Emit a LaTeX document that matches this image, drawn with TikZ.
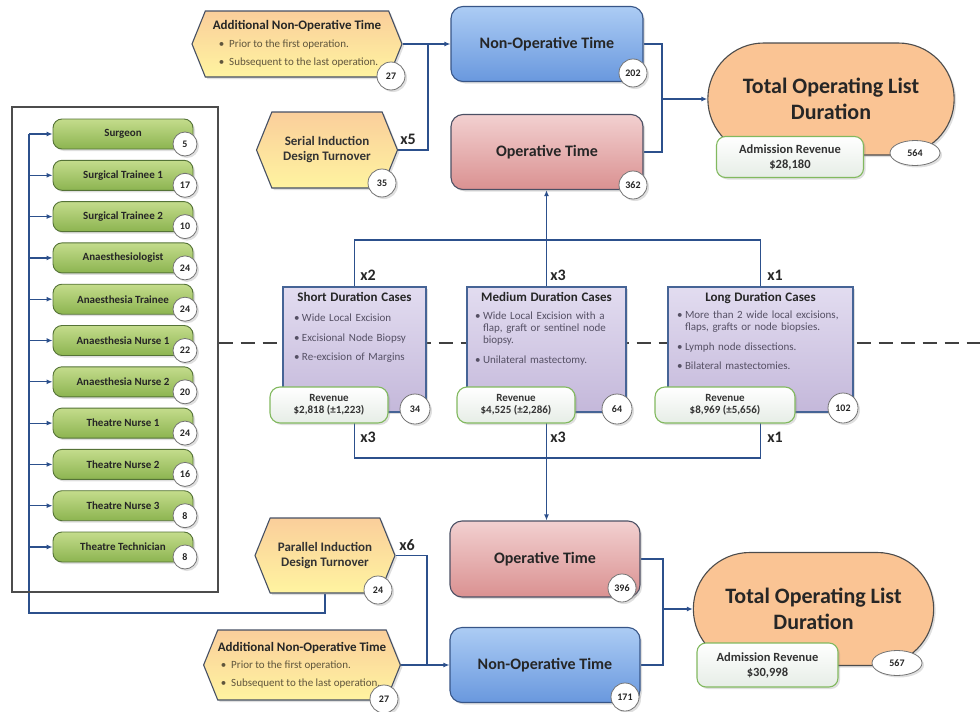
\documentclass[tikz,border=0pt]{standalone}
\usepackage{fontspec}
\setmainfont{Carlito}
\usepackage{xcolor}
\usepackage{tikz}
\usetikzlibrary{shapes, shapes.misc, shapes.symbols, shapes.geometric}
\usetikzlibrary{positioning, arrows.meta, backgrounds, shadows}

\definecolor{linkblue}{RGB}{44,80,140}
\definecolor{hexhi}{RGB}{250,206,155}
\definecolor{hexlo}{RGB}{255,244,160}
\definecolor{hexedge}{RGB}{70,80,100}
\definecolor{nonhi}{RGB}{172,204,244}
\definecolor{nonlo}{RGB}{105,152,222}
\definecolor{nonedge}{RGB}{55,85,135}
\definecolor{ophi}{RGB}{242,208,208}
\definecolor{oplo}{RGB}{218,145,145}
\definecolor{opedge}{RGB}{75,80,100}
\definecolor{totfill}{RGB}{250,196,148}
\definecolor{admedge}{RGB}{130,185,95}
\definecolor{admlo}{RGB}{230,237,230}
\definecolor{stafhi}{RGB}{196,220,140}
\definecolor{staflo}{RGB}{140,180,80}
\definecolor{stafedge}{RGB}{85,115,55}
\definecolor{casehi}{RGB}{226,220,240}
\definecolor{caselo}{RGB}{196,184,218}
\definecolor{caseedge}{RGB}{70,100,150}
\definecolor{bullgray}{RGB}{85,80,100}
\definecolor{hexbull}{RGB}{95,85,60}

\newcommand{\bitem}[1]{\par\hangindent=8pt\hangafter=1\noindent\makebox[8pt][l]{\textbullet}#1\par\vspace{7.5pt}}
\newcommand{\hexitem}[2][6pt]{\hspace*{#1}\textbullet\hspace{5pt}#2}
\newcommand{\ctitle}{\bfseries\fontsize{13}{15}\selectfont\color{black!85}}

\begin{document}
\begin{tikzpicture}[
    x=1pt, y=-1pt,
    shade/.style={drop shadow={shadow xshift=2pt, shadow yshift=-2pt, opacity=0.25}},
    hex/.style={signal, signal to=west and east, signal pointer angle=136, draw=hexedge, line width=1.1pt,
        top color=hexhi, bottom color=hexlo, inner sep=0pt, shade},
    nonop/.style={rectangle, rounded corners=12pt, draw=nonedge, line width=1.1pt, top color=nonhi, bottom color=nonlo,
        minimum width=192, minimum height=75, font=\bfseries\fontsize{16}{19}\selectfont, text=black!85, shade},
    optime/.style={nonop, draw=opedge, top color=ophi, bottom color=oplo},
    total/.style={rounded rectangle, draw=black!70, line width=1.1pt, fill=totfill, align=center,
        font=\bfseries\fontsize{22}{26}\selectfont, text=black!85, shade},
    adm/.style={rectangle, rounded corners=9pt, draw=admedge, line width=1.1pt, top color=white, bottom color=admlo,
        align=center, font=\bfseries\fontsize{12.5}{15}\selectfont, text=black!80, shade},
    staff/.style={rectangle, rounded corners=9pt, draw=stafedge, line width=0.9pt, top color=stafhi, bottom color=staflo,
        minimum width=140, minimum height=30, font=\bfseries\fontsize{11}{12}\selectfont, text=black!85, shade},
    cases/.style={rectangle, draw=caseedge, line width=1.1pt, top color=casehi, bottom color=caselo,
        minimum height=125, shade},
    casetext/.style={anchor=north, align=left, inner sep=0pt, font=\fontsize{11}{12}\selectfont, text=bullgray},
    rev/.style={adm, rounded corners=10pt, minimum width=118, minimum height=36, font=\bfseries\fontsize{11}{12.5}\selectfont},
    badge/.style={circle, draw=black!55, line width=0.8pt, fill=white, minimum size=28, inner sep=0pt,
        font=\bfseries\fontsize{10}{10}\selectfont, text=black!85, shade},
    ovalbadge/.style={badge, ellipse, minimum width=50, minimum height=25},
    mult/.style={font=\bfseries\fontsize{16}{16}\selectfont, text=black!85, inner sep=0pt},
    panel/.style={rectangle, draw=black!70, line width=1.3pt, minimum width=206, minimum height=485},
    conn/.style={draw=linkblue, line width=1.2pt},
    dashline/.style={draw=black!75, line width=1.8pt, dash pattern=on 14pt off 8pt},
    >={Latex[length=6pt, width=5pt]}
    ]

    \useasboundingbox (0,0) rectangle (980,712);

    % staff list
    \node[panel] (staffpanel) at (115,349.5) {};
    \foreach \who/\cnt [count=\i from 0] in {Surgeon/5, Surgical Trainee 1/17, Surgical Trainee 2/10,
        Anaesthesiologist/24, Anaesthesia Trainee/24, Anaesthesia Nurse 1/22, Anaesthesia Nurse 2/20,
        Theatre Nurse 1/24, Theatre Nurse 2/16, Theatre Nurse 3/8, Theatre Technician/8} {
        \node[staff] (st\i) at (123, 134+41.3*\i) {\who};
        \node[badge, minimum size=24] (sb\i) at (185, 144+41.3*\i) {\cnt};
    }

    % top half
    \node[hex, minimum width=210, minimum height=66, align=left, font=\fontsize{11}{12}\selectfont, text=hexbull]
        (addtop) at (297,44) {{\ctitle Additional Non-Operative Time}\\[6pt]
        \hexitem{Prior to the first operation.}\\[6pt]
        \hexitem{Subsequent to the last operation.}};
    \node[hex, minimum width=141, minimum height=76, align=center, font=\bfseries\fontsize{13}{15}\selectfont, text=black!80]
        (serial) at (327,150) {Serial Induction\\Design Turnover};
    \node[nonop] (nonoptop) at (547,44) {Non-Operative Time};
    \node[optime] (optop) at (547,152) {Operative Time};
    \node[total, minimum width=253, minimum height=112] (totaltop) at (831,99) {Total Operating List\\Duration};
    \node[adm, minimum width=147, minimum height=41] (admtop) at (790,157) {Admission Revenue\\\$28,180};

    \node[badge] (b27a) at (391,76) {27};
    \node[badge] (b35) at (382,183) {35};
    \node[badge] (b202) at (633,73) {202};
    \node[badge] (b362) at (633,185) {362};
    \node[ovalbadge] (b564) at (915,153) {564};

    % case mix
    \node[cases, minimum width=143] (short) at (354.5,349.5) {};
    \node[cases, minimum width=159] (medium) at (546.5,349.5) {};
    \node[cases, minimum width=185] (long) at (760.5,349.5) {};

    \node[casetext, text width=121] (shorttxt) at ([yshift=-6pt]short.north) {%
        {\centering\ctitle Short Duration Cases\par}\vspace{8pt}
        \bitem{Wide Local Excision}
        \bitem{Excisional Node Biopsy}
        \bitem{Re-excision of Margins}};
    \node[casetext, text width=143] (mediumtxt) at ([yshift=-6pt]medium.north) {%
        {\centering\ctitle Medium Duration Cases\par}\vspace{6pt}
        \bitem{Wide Local Excision with a\newline flap, graft or sentinel node\newline biopsy.}
        \bitem{Unilateral mastectomy.}};
    \node[casetext, text width=167] (longtxt) at ([yshift=-6pt]long.north) {%
        {\centering\ctitle Long Duration Cases\par}\vspace{5pt}
        \bitem{More than 2 wide local excisions,\newline flaps, grafts or node biopsies.}
        \bitem{Lymph node dissections.}
        \bitem{Bilateral mastectomies.}};

    \node[rev] (revshort) at (329,405) {Revenue\\\$2,818 (±1,223)};
    \node[rev] (revmedium) at (516,405) {Revenue\\\$4,525 (±2,286)};
    \node[rev, minimum width=140] (revlong) at (725,405) {Revenue\\\$8,969 (±5,656)};
    \node[badge, minimum size=30] (b34) at (415,409) {34};
    \node[badge, minimum size=30] (b64) at (617,409) {64};
    \node[badge, minimum size=30] (b102) at (843,408) {102};

    % bottom half
    \node[hex, minimum width=140, minimum height=75, align=center, font=\bfseries\fontsize{13}{15}\selectfont, text=black!80]
        (par) at (325,555.5) {Parallel Induction\\Design Turnover};
    \node[hex, minimum width=192, minimum height=70, align=left, font=\fontsize{11}{12}\selectfont, text=hexbull]
        (addbot) at (302,665) {{\ctitle Additional Non-Operative Time}\\[5pt]
        \hexitem[3pt]{Prior to the first operation.}\\[6pt]
        \hexitem[3pt]{Subsequent to the last operation.}};
    \node[optime, minimum width=190, minimum height=76] (opbot) at (545,559) {Operative Time};
    \node[nonop, minimum width=190] (nonopbot) at (545,665) {Non-Operative Time};
    \node[total, minimum width=247, minimum height=113] (totalbot) at (813.5,609) {Total Operating List\\Duration};
    \node[adm, minimum width=141, minimum height=44] (admbot) at (767.5,665) {Admission Revenue\\\$30,998};

    \node[badge] (b24) at (378,590) {24};
    \node[badge] (b27b) at (384,699) {27};
    \node[badge] (b396) at (622,588) {396};
    \node[badge] (b171) at (625,697) {171};
    \node[ovalbadge] (b567) at (897,663) {567};

    % multipliers
    \node[mult] (m5) at (408,139) {x5};
    \node[mult] (m2) at (368,275) {x2};
    \node[mult] (m3a) at (558,275) {x3};
    \node[mult] (m1a) at (775,275) {x1};
    \node[mult] (m3b) at (368,437) {x3};
    \node[mult] (m3c) at (558,437) {x3};
    \node[mult] (m1b) at (775,437) {x1};
    \node[mult] (m6) at (407,545) {x6};

    \coordinate (jtop) at (428,44);
    \coordinate (mtop) at (662,99);
    \coordinate (topbus) at (546,240);
    \coordinate (botbus) at (546,458);
    \coordinate (jbot) at (427,665);
    \coordinate (mbot) at (663,609);
    \coordinate (bus) at (29,613);
    \coordinate (dashR) at (980,343);

    \begin{scope}[on background layer]
        \draw[dashline] (staffpanel.east |- dashR) -- (dashR);

        \draw[conn,->] (addtop.east) -- (nonoptop.west);
        \draw[conn] (serial.east) -| (jtop);
        \draw[conn] (nonoptop.east) -| (mtop) |- (optop.east);
        \draw[conn,->] (mtop) -- (totaltop.west);

        \draw[conn] (short.north) |- (topbus) -| (long.north);
        \draw[conn,->] (medium.north) -- (medium.north |- optop.south);
        \draw[conn] (short.south) |- (botbus) -| (long.south);
        \draw[conn,->] (medium.south) -- (medium.south |- opbot.north);

        \draw[conn,->] (addbot.east) -- (nonopbot.west);
        \draw[conn] (par.east) -| (jbot);
        \draw[conn] (opbot.east) -| (mbot) |- (nonopbot.east);
        \draw[conn,->] (mbot) -- (totalbot.west);

        \draw[conn] (bus |- st0.west) -- (bus) -| (par.south);
        \foreach \i in {0,...,10}
            \draw[conn,->] (bus |- st\i.west) -- (st\i.west);
    \end{scope}
\end{tikzpicture}
\end{document}
